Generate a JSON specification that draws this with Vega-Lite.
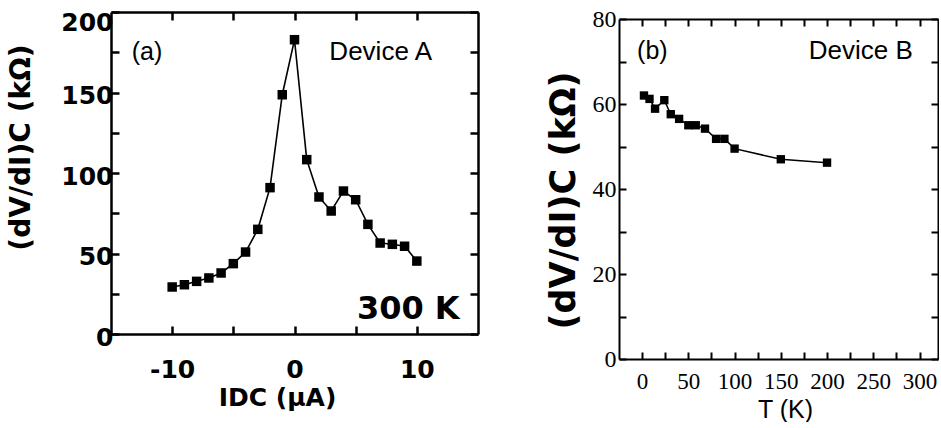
{
  "$schema": "https://vega.github.io/schema/vega-lite/v6.json",
  "background": "white",
  "padding": {"left": 6, "top": 7, "right": 0, "bottom": 0},
  "spacing": 66,
  "config": {
    "view": {"stroke": null},
    "axis": {"domainColor": "black", "tickColor": "black", "labelColor": "black", "titleColor": "black", "grid": false, "labelFlush": false, "labelOverlap": false}
  },
  "datasets": {
    "a": [
      {"I": -10, "R": 29.2}, {"I": -9, "R": 30.6}, {"I": -8, "R": 32.7}, {"I": -7, "R": 34.8},
      {"I": -6, "R": 37.9}, {"I": -5, "R": 43.7}, {"I": -4, "R": 50.9}, {"I": -3, "R": 65.0},
      {"I": -2, "R": 90.9}, {"I": -1, "R": 148.6}, {"I": 0, "R": 182.8}, {"I": 1, "R": 108.3},
      {"I": 2, "R": 85.1}, {"I": 3, "R": 76.4}, {"I": 4, "R": 88.8}, {"I": 5, "R": 83.4},
      {"I": 6, "R": 68.1}, {"I": 7, "R": 56.5}, {"I": 8, "R": 55.7}, {"I": 9, "R": 54.5},
      {"I": 10, "R": 45.3}
    ],
    "b": [
      {"T": 2, "R": 62.0}, {"T": 8, "R": 61.2}, {"T": 14, "R": 58.9}, {"T": 24, "R": 60.9},
      {"T": 31, "R": 57.6}, {"T": 40, "R": 56.5}, {"T": 50, "R": 55.0}, {"T": 58, "R": 55.0},
      {"T": 68, "R": 54.2}, {"T": 80, "R": 51.8}, {"T": 89, "R": 51.8}, {"T": 100, "R": 49.5},
      {"T": 150, "R": 47.0}, {"T": 200, "R": 46.2}
    ]
  },
  "hconcat": [
    {
      "width": 367,
      "height": 322,
      "data": {"name": "a"},
      "layer": [
        {
          "mark": {"type": "line", "color": "black", "strokeWidth": 1.6},
          "encoding": {
            "x": {"field": "I", "type": "quantitative",
              "scale": {"domain": [-15, 15], "nice": false, "zero": false},
              "axis": {"orient": "bottom", "values": [-10, -5, 0, 5, 10],
                "labelExpr": "datum.value % 10 === 0 ? toString(datum.value) : ''",
                "tickSize": -8, "domainWidth": 2.5, "tickWidth": 2.5,
                "labelFont": "DejaVu Sans", "labelFontWeight": "bold", "labelFontSize": 25, "labelPadding": 31,
                "title": "IDC (μA)", "titleFont": "DejaVu Sans", "titleFontWeight": "bold", "titleFontSize": 25,
                "titleX": 166, "titleY": 71, "titleBaseline": "alphabetic"}},
            "y": {"field": "R", "type": "quantitative",
              "scale": {"domain": [0, 200], "nice": false},
              "axis": {"orient": "left", "values": [0, 25, 50, 75, 100, 125, 150, 175, 200],
                "labelExpr": "datum.value % 50 === 0 ? toString(datum.value) : ''",
                "labelOffset": {"condition": {"test": "datum.value === 200", "value": 10}, "value": 3},
                "tickSize": -8, "domainWidth": 2.5, "tickWidth": 2.5,
                "labelFont": "DejaVu Sans", "labelFontWeight": "bold", "labelFontSize": 25, "labelPadding": 6,
                "title": "(dV/dI)C (kΩ)", "titleFont": "DejaVu Sans", "titleFontWeight": "bold", "titleFontSize": 28,
                "titleX": -90, "titleY": 135, "titleAlign": "center", "titleBaseline": "middle"}}
          }
        },
        {
          "mark": {"type": "point", "shape": "square", "filled": true, "color": "black", "size": 90, "opacity": 1},
          "encoding": {
            "x": {"field": "I", "type": "quantitative",
              "axis": {"orient": "top", "values": [-10, -5, 0, 5, 10], "labels": false, "title": null,
                "tickSize": -8, "domainWidth": 2.5, "tickWidth": 2.5}},
            "y": {"field": "R", "type": "quantitative",
              "axis": {"orient": "right", "values": [0, 25, 50, 75, 100, 125, 150, 175, 200], "labels": false, "title": null,
                "tickSize": -8, "domainWidth": 2.5, "tickWidth": 2.5}}
          }
        },
        {
          "data": {"values": [{"label": "(a)"}]},
          "mark": {"type": "text", "font": "Liberation Sans", "fontSize": 25, "align": "left", "baseline": "alphabetic", "color": "black"},
          "encoding": {
            "text": {"field": "label"},
            "x": {"datum": -13.3, "type": "quantitative", "axis": null},
            "y": {"datum": 170, "type": "quantitative", "axis": null}
          }
        },
        {
          "data": {"values": [{"label": "Device A"}]},
          "mark": {"type": "text", "font": "Liberation Sans", "fontSize": 26, "align": "left", "baseline": "alphabetic", "color": "black"},
          "encoding": {
            "text": {"field": "label"},
            "x": {"datum": 2.85, "type": "quantitative", "axis": null},
            "y": {"datum": 170, "type": "quantitative", "axis": null}
          }
        },
        {
          "data": {"values": [{"label": "300 K"}]},
          "mark": {"type": "text", "font": "DejaVu Sans", "fontSize": 32, "fontWeight": "bold", "align": "right", "baseline": "alphabetic", "color": "black"},
          "encoding": {
            "text": {"field": "label"},
            "x": {"datum": 13.5, "type": "quantitative", "axis": null},
            "y": {"datum": 9.5, "type": "quantitative", "axis": null}
          }
        }
      ],
      "resolve": {"axis": {"x": "independent", "y": "independent"}}
    },
    {
      "width": 319,
      "height": 347,
      "data": {"name": "b"},
      "layer": [
        {
          "mark": {"type": "line", "color": "black", "strokeWidth": 1.5},
          "encoding": {
            "x": {"field": "T", "type": "quantitative",
              "scale": {"domain": [-25, 320], "nice": false, "zero": false},
              "axis": {"orient": "bottom", "values": [0, 25, 50, 75, 100, 125, 150, 175, 200, 225, 250, 275, 300],
                "labelExpr": "datum.value % 50 === 0 ? toString(datum.value) : ''",
                "tickSize": -7, "domainWidth": 2, "tickWidth": 2,
                "labelFont": "Liberation Sans Narrow", "labelFontSize": 23, "labelPadding": 18,
                "title": "T (K)", "titleFont": "Liberation Sans", "titleFontWeight": "normal", "titleFontSize": 25,
                "titleX": 166, "titleY": 58, "titleBaseline": "alphabetic"}},
            "y": {"field": "R", "type": "quantitative",
              "scale": {"domain": [0, 80], "nice": false, "range": [347, 7]},
              "axis": {"orient": "left", "values": [0, 10, 20, 30, 40, 50, 60, 70, 80],
                "labelExpr": "datum.value % 20 === 0 ? toString(datum.value) : ''",
                "tickSize": -7, "domainWidth": 2, "tickWidth": 2,
                "labelFont": "Liberation Sans Narrow", "labelFontSize": 24, "labelPadding": 10,
                "title": "(dV/dI)C (kΩ)", "titleFont": "DejaVu Sans", "titleFontWeight": "bold", "titleFontSize": 35,
                "titleX": -56, "titleY": 188, "titleAlign": "center", "titleBaseline": "middle"}}
          }
        },
        {
          "mark": {"type": "point", "shape": "square", "filled": true, "color": "black", "size": 70, "opacity": 1},
          "encoding": {
            "x": {"field": "T", "type": "quantitative",
              "axis": {"orient": "top", "offset": -7, "values": [0, 25, 50, 75, 100, 125, 150, 175, 200, 225, 250, 275, 300], "labels": false, "title": null,
                "tickSize": -7, "domainWidth": 2, "tickWidth": 2}},
            "y": {"field": "R", "type": "quantitative",
              "axis": {"orient": "right", "values": [0, 10, 20, 30, 40, 50, 60, 70, 80], "labels": false, "title": null,
                "tickSize": -7, "domainWidth": 2, "tickWidth": 2}}
          }
        },
        {
          "data": {"values": [{"label": "(b)"}]},
          "mark": {"type": "text", "font": "Liberation Sans", "fontSize": 25, "align": "left", "baseline": "alphabetic", "color": "black"},
          "encoding": {
            "text": {"field": "label"},
            "x": {"datum": -5.4, "type": "quantitative", "axis": null},
            "y": {"datum": 70.7, "type": "quantitative", "axis": null}
          }
        },
        {
          "data": {"values": [{"label": "Device B"}]},
          "mark": {"type": "text", "font": "Liberation Sans", "fontSize": 26, "align": "left", "baseline": "alphabetic", "color": "black"},
          "encoding": {
            "text": {"field": "label"},
            "x": {"datum": 180.3, "type": "quantitative", "axis": null},
            "y": {"datum": 70.6, "type": "quantitative", "axis": null}
          }
        }
      ],
      "resolve": {"axis": {"x": "independent", "y": "independent"}}
    }
  ]
}
